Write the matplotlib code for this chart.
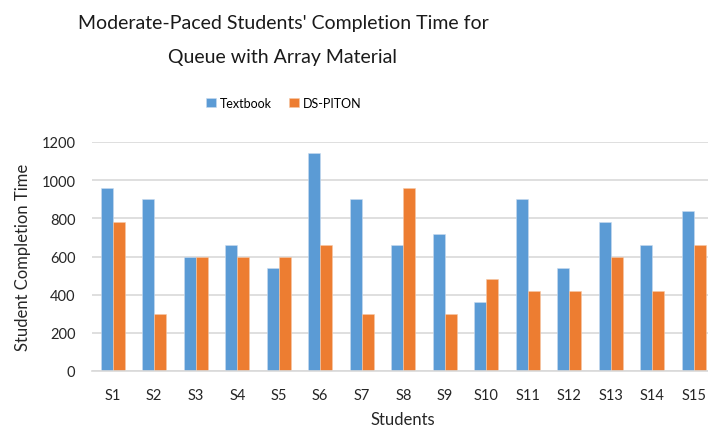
import matplotlib.pyplot as plt
import numpy as np

plt.rcParams["font.family"] = ["Lato", "DejaVu Sans"]

students = ["S%d" % i for i in range(1, 16)]
textbook = [960, 900, 600, 660, 540, 1140, 900, 660, 720, 360, 900, 540, 780, 660, 840]
ds_piton = [780, 300, 600, 600, 600, 660, 300, 960, 300, 480, 420, 420, 600, 420, 660]
yticks = [0, 200, 400, 600, 800, 1000, 1200]


def main():
    W, H = 708, 427
    fig = plt.figure(figsize=(W / 100, H / 100), dpi=100)
    # plot area runs slightly past the right edge, like the cropped original
    ax = fig.add_axes([92 / W, 1 - 372 / H, (714.5 - 92) / W, (372 - 143) / H])

    x = np.arange(len(students))
    width = 0.29
    b1 = ax.bar(x - width / 2, textbook, width, color="#5b9bd5",
                edgecolor="#c9dcf0", linewidth=0.4, label="Textbook", zorder=2)
    b2 = ax.bar(x + width / 2, ds_piton, width, color="#ed7d31",
                edgecolor="#f6c9a8", linewidth=0.4, label="DS-PITON", zorder=2)

    ax.set_xlim(-0.5, len(students) - 0.5)
    ax.set_ylim(0, 1200)
    ax.set_yticks(yticks)
    ax.set_xticks(x)
    ax.set_xticklabels(students)
    ax.tick_params(axis="both", length=0, labelsize=10.5, colors="#262626")
    ax.tick_params(axis="x", pad=12)
    ax.tick_params(axis="y", pad=12)
    ax.yaxis.grid(True, color="#d9d9d9", linewidth=1.2, zorder=0)
    for key in ax.spines:
        ax.spines[key].set_visible(False)
    ax.spines["bottom"].set_visible(True)
    ax.spines["bottom"].set_color("#d9d9d9")
    ax.spines["bottom"].set_linewidth(1.2)

    ax.set_xlabel("Students", fontsize=12, color="#262626")
    ax.xaxis.set_label_coords(0.5, -0.175)
    ax.set_ylabel("Student Completion Time", fontsize=12, color="#262626")
    ax.yaxis.set_label_coords(-0.098, 0.5)

    fig.text(283 / W, 1 - 24 / H, "Moderate-Paced Students' Completion Time for",
             ha="center", va="center", fontsize=14, color="#1a1a1a")
    fig.text(283 / W, 1 - 57 / H, "Queue with Array Material",
             ha="center", va="center", fontsize=14, color="#1a1a1a")

    fig.legend(handles=[b1, b2], loc="center", bbox_to_anchor=(284 / W, 1 - 104 / H),
               ncol=2, frameon=False, fontsize=9, handlelength=0.8,
               handleheight=0.65, handletextpad=0.3, columnspacing=1.4)

    fig.savefig("out.png", dpi=100)


main()
